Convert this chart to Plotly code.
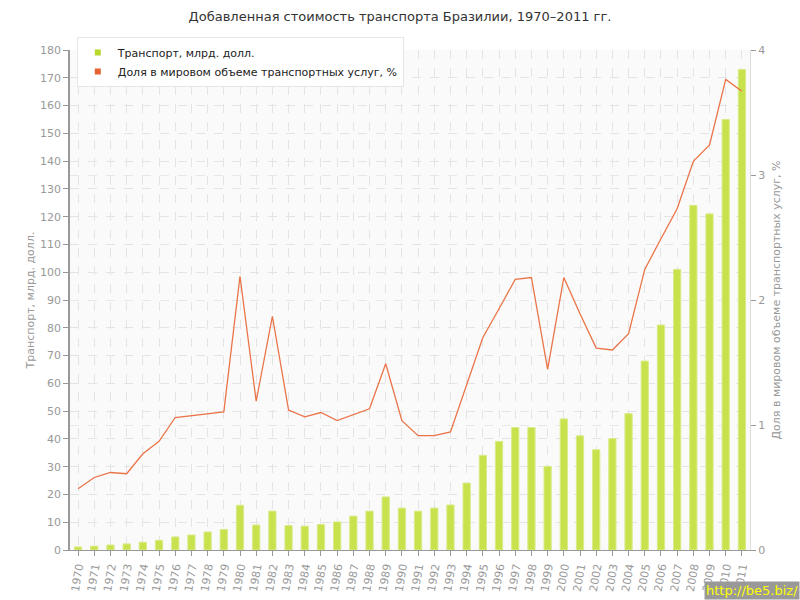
import plotly.graph_objects as go

years = [str(y) for y in range(1970, 2012)]
transport = [1.1, 1.4, 1.8, 2.2, 2.8, 3.5, 4.7, 5.4, 6.5, 7.4,
             16.1, 9.0, 14.0, 8.8, 8.6, 9.2, 10.1, 12.2, 14.0, 19.1,
             15.1, 14.0, 15.1, 16.2, 24.1, 34.1, 39.1, 44.1, 44.1, 30.1,
             47.2, 41.1, 36.1, 40.1, 49.1, 68.0, 81.0, 101.0, 124.1, 121.0,
             155.0, 173.0]
share = [0.49, 0.58, 0.62, 0.61, 0.77, 0.87, 1.06, 1.075, 1.09, 1.105,
         2.19, 1.19, 1.87, 1.12, 1.065, 1.10, 1.035, 1.085, 1.13, 1.49,
         1.035, 0.915, 0.915, 0.945, 1.325, 1.70, 1.93, 2.165, 2.18, 1.445,
         2.18, 1.89, 1.615, 1.60, 1.73, 2.245, 2.49, 2.73, 3.11, 3.24,
         3.765, 3.67]

name_bar = "Транспорт, млрд. долл."
name_line = "Доля в мировом объеме транспортных услуг, %"
bar_color = "#c8e24e"
line_color = "#ea7448"
font_family = "DejaVu Sans, Verdana, sans-serif"

fig = go.Figure()
fig.add_trace(go.Bar(
    x=years, y=transport, name=name_bar, yaxis="y", width=0.45,
    marker=dict(color=bar_color, line=dict(color="#d8ec8a", width=1)),
    showlegend=False))
fig.add_trace(go.Scatter(
    x=years, y=share, name=name_line, yaxis="y2", mode="lines",
    line=dict(color=line_color, width=1.3), showlegend=False))
# legend entries with square markers
fig.add_trace(go.Scatter(x=[None], y=[None], mode="markers", name=name_bar,
                         marker=dict(symbol="square", size=6, color="#b5d82a")))
fig.add_trace(go.Scatter(x=[None], y=[None], mode="markers", name=name_line,
                         marker=dict(symbol="square", size=6, color="#e6622e")))

grid = "#e4e4e4"
tickfont = dict(family=font_family, size=11, color="#999999")

fig.update_layout(
    width=800, height=600,
    margin=dict(l=70, r=50, t=50, b=50, autoexpand=False),
    paper_bgcolor="white", plot_bgcolor="#fafafa",
    font=dict(family=font_family, color="#333333"),
    title=dict(text="Добавленная стоимость транспорта Бразилии, 1970–2011 гг.",
               x=0.5, xanchor="center", y=0.972, yanchor="middle",
               font=dict(family=font_family, size=13, color="#333333")),
    bargap=0.55,
    xaxis=dict(type="category", range=[-0.5, 41.5], tickangle=-80, automargin=False,
               showgrid=True, gridcolor=grid, griddash="dash", gridwidth=1,
               showline=True, linecolor="#999999", linewidth=1,
               ticks="outside", ticklen=5, tickcolor="#999999",
               tickfont=tickfont, layer="above traces"),
    yaxis=dict(range=[0, 180], dtick=10, showgrid=True, gridcolor=grid,
               griddash="dash", zeroline=False, automargin=False,
               showline=True, linecolor="#999999", linewidth=1.5,
               ticks="outside", ticklen=5, tickcolor="#999999",
               tickfont=tickfont, layer="above traces",
               title=dict(text=name_bar, standoff=3,
                          font=dict(family=font_family, size=11, color="#999999"))),
    yaxis2=dict(range=[0, 4], dtick=1, overlaying="y", side="right",
                showgrid=True, gridcolor="#e8e8e8", griddash="dash", zeroline=False,
                automargin=False,
                showline=True, linecolor="#dddddd", linewidth=1,
                ticks="outside", ticklen=5, tickcolor="#999999",
                tickfont=tickfont, layer="above traces",
                title=dict(text=name_line, standoff=8,
                           font=dict(family=font_family, size=11, color="#999999"))),
    legend=dict(x=0.01, y=1.026, xanchor="left", yanchor="top",
                bgcolor="rgba(255,255,255,0.97)", bordercolor="#e6e6e6", borderwidth=1,
                font=dict(family=font_family, size=11, color="#222222"),
                tracegroupgap=0, itemwidth=30),
    annotations=[dict(text="http://be5.biz/", xref="paper", yref="paper",
                      x=1.0 + 50/680, y=-50/500, xanchor="right", yanchor="bottom",
                      showarrow=False, bgcolor="#999999",
                      font=dict(family=font_family, size=13, color="#ffff00"),
                      borderpad=1)],
)

fig.write_html("out.html", config={"displayModeBar": False},
               post_script="document.body.style.margin='0';document.body.style.padding='0';")
